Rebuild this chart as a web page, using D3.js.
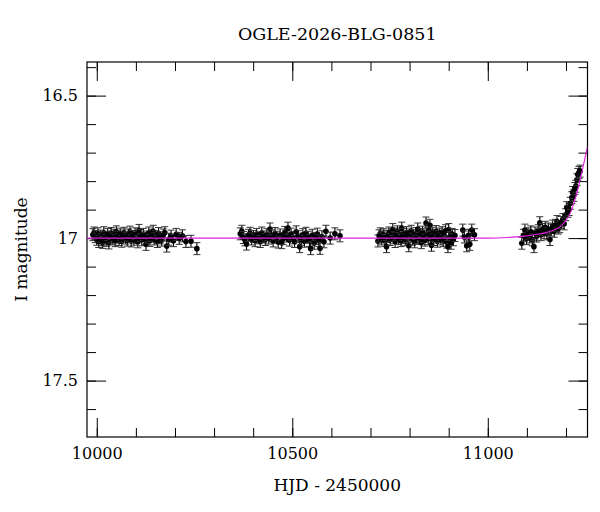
<!DOCTYPE html>
<html>
<head>
<meta charset="utf-8">
<script src="https://cdn.jsdelivr.net/npm/d3@7"></script>
<style>
  body { margin: 0; background: #fff; }
  text { font-family: "DejaVu Serif", serif; fill: #000; }
</style>
</head>
<body>
<div id="chart"></div>
<script>
// season 1 photometry (HJD - 2450000, I mag)
var s1t = [9990, 9993, 9996, 10000, 10003, 10005, 10009, 10012, 10015, 10018, 10021, 10024, 10028, 10031, 10034, 10037, 10041, 10044, 10047, 10050, 10054, 10057, 10060, 10064, 10067, 10070, 10074, 10078, 10081, 10085, 10088, 10091, 10095, 10098, 10102, 10105, 10108, 10112, 10115, 10119, 10122, 10126, 10129, 10133, 10136, 10140, 10144, 10147, 10151, 10155, 10158, 10162, 10166, 10170, 10174, 10179, 10184, 10190, 10196, 10203, 10211, 10219, 10228, 10241, 10256];
var s1m = [16.988, 16.982, 16.995, 17.004, 16.985, 17.012, 16.993, 17.006, 17.015, 16.981, 16.999, 17.008, 16.987, 17.017, 16.996, 16.984, 17.003, 16.99, 17.009, 16.978, 16.997, 17.005, 16.986, 17.011, 16.993, 16.983, 17.0, 17.007, 16.989, 16.979, 17.01, 16.994, 17.004, 16.985, 16.998, 17.013, 16.973, 16.991, 17.006, 16.987, 17.002, 17.022, 16.996, 16.982, 17.008, 16.99, 16.976, 17.003, 16.995, 17.012, 16.984, 16.999, 17.007, 16.989, 16.981, 17.028, 17.004, 16.993, 17.009, 16.987, 17.001, 16.992, 17.012, 17.011, 17.037];

// season 2
var s2t = [10367, 10371, 10375, 10379, 10383, 10388, 10392, 10396, 10401, 10405, 10409, 10414, 10418, 10422, 10427, 10431, 10435, 10440, 10443, 10447, 10451, 10456, 10460, 10464, 10469, 10473, 10477, 10481, 10485, 10489, 10493, 10497, 10502, 10506, 10510, 10515, 10519, 10523, 10527, 10531, 10535, 10540, 10544, 10547, 10551, 10556, 10560, 10564, 10568, 10571, 10576, 10581, 10586, 10597, 10609, 10622];
var s2m = [16.985, 16.976, 16.998, 17.006, 17.021, 16.99, 16.983, 17.003, 16.994, 17.009, 16.987, 16.999, 17.012, 16.982, 16.996, 17.005, 16.988, 17.0, 16.968, 16.992, 17.01, 16.984, 16.997, 17.014, 16.989, 17.016, 17.002, 16.98, 16.993, 16.965, 17.007, 16.986, 16.999, 17.012, 16.978, 16.995, 17.03, 17.004, 16.988, 17.011, 16.983, 16.997, 17.008, 17.037, 16.99, 17.018, 17.001, 16.986, 17.009, 17.036, 16.995, 17.013, 16.976, 17.0, 16.985, 16.992];

// season 3
var s3t = [10719, 10722, 10725, 10728, 10731, 10734, 10737, 10741, 10744, 10747, 10750, 10753, 10757, 10760, 10763, 10766, 10769, 10772, 10775, 10778, 10780, 10783, 10786, 10789, 10792, 10795, 10798, 10801, 10804, 10807, 10810, 10813, 10816, 10819, 10821, 10824, 10827, 10830, 10833, 10836, 10839, 10842, 10845, 10848, 10850, 10852, 10854, 10856, 10859, 10862, 10865, 10868, 10871, 10874, 10877, 10880, 10883, 10886, 10889, 10892, 10895, 10898, 10900, 10903, 10906, 10909, 10912, 10916, 10936, 10940, 10946, 10951, 10954, 10959, 10966];
var s3m = [17.01, 16.992, 16.985, 17.003, 16.996, 16.988, 17.008, 17.03, 16.994, 16.982, 17.005, 16.99, 16.97, 16.999, 17.012, 16.986, 16.978, 17.002, 16.993, 17.009, 16.965, 16.987, 16.998, 17.006, 16.981, 16.995, 17.027, 16.989, 16.976, 17.004, 16.992, 17.013, 16.984, 16.997, 16.968, 17.001, 16.988, 17.016, 16.979, 16.994, 17.007, 16.947, 16.985, 17.002, 16.973, 16.955, 16.996, 17.025, 16.983, 17.005, 16.99, 16.977, 17.011, 16.995, 16.986, 17.003, 16.981, 17.009, 16.993, 16.974, 17.014, 17.03, 16.97, 16.998, 17.018, 16.987, 17.006, 16.991, 16.972, 16.996, 17.027, 16.99, 17.022, 16.972, 16.988];

// season 4 (rising part)
var s4t = [11087, 11091, 11095, 11099, 11103, 11107, 11110, 11114, 11118, 11121, 11125, 11129, 11133, 11136, 11140, 11144, 11147, 11151, 11155, 11159, 11162, 11166, 11170, 11173, 11177, 11180, 11184, 11188, 11192, 11195, 11199, 11202, 11205, 11208, 11211, 11215, 11217, 11220, 11223, 11225, 11228, 11230, 11233, 11236];
var s4m = [17.018, 16.99, 16.972, 17.002, 16.985, 16.996, 16.978, 17.006, 17.03, 16.982, 16.993, 16.974, 16.946, 16.988, 16.97, 16.981, 16.962, 16.985, 16.968, 17.005, 16.972, 16.958, 16.976, 16.955, 16.942, 16.965, 16.96, 16.945, 16.935, 16.95, 16.918, 16.893, 16.906, 16.9, 16.878, 16.858, 16.84, 16.85, 16.826, 16.818, 16.795, 16.777, 16.77, 16.765];

// photometric errors per season (mag)
var seasonErr = [0.021, 0.021, 0.021, 0.021];

// model light curve
var modelT = [9975, 10500, 11000, 11050, 11089, 11120, 11151, 11175, 11189, 11200, 11210, 11220, 11230, 11238, 11246, 11255];
var modelM = [17.0, 17.0, 17.0, 16.998, 16.994, 16.988, 16.98, 16.968, 16.955, 16.938, 16.915, 16.878, 16.83, 16.785, 16.735, 16.68];

// tick values
var xMajor = [10000, 10500, 11000];
var xMinor = [10000, 10100, 10200, 10300, 10400, 10500, 10600, 10700, 10800, 10900, 11000, 11100, 11200];
var yMajor = [16.5, 17, 17.5];
var yMinor = [16.4, 16.5, 16.6, 16.7, 16.8, 16.9, 17, 17.1, 17.2, 17.3, 17.4, 17.5, 17.6];

var svgWidth = 600;
var svgHeight = 512;
var margin = { top: 62, right: 12.5, bottom: 75, left: 87 };
var width = svgWidth - margin.left - margin.right;
var height = svgHeight - margin.top - margin.bottom;

var svg = d3.select("#chart")
  .append("svg")
  .attr("width", svgWidth)
  .attr("height", svgHeight);

var chartGroup = svg.append("g")
  .attr("transform", `translate(${margin.left}, ${margin.top})`);

var xScale = d3.scaleLinear().domain([9975, 11255]).range([0, width]);
var yScale = d3.scaleLinear().domain([16.382, 17.698]).range([0, height]);

// build the point table
var points = [];
[[s1t, s1m], [s2t, s2m], [s3t, s3m], [s4t, s4m]].forEach(function (s, i) {
  s[0].forEach(function (t, j) {
    points.push({ t: t, m: s[1][j], e: seasonErr[i] });
  });
});

// axes: major + minor ticks pointing inwards
function drawTicks(axisFn, scale, values, size, labels, transform) {
  var ax = axisFn(scale).tickValues(values).tickSize(size).tickSizeOuter(0);
  if (labels) {
    ax.tickFormat(d3.format("")).tickPadding(labels);
  } else {
    ax.tickFormat("");
  }
  var g = chartGroup.append("g").attr("transform", transform).call(ax);
  g.select(".domain").remove();
  g.selectAll("line").attr("stroke", "#000").attr("stroke-width", 1);
  g.selectAll("text").style("font-size", "16px").style("font-family", "DejaVu Serif, serif").attr("fill", "#000");
  return g;
}

drawTicks(d3.axisBottom, xScale, xMinor, -9, 0, `translate(0, ${height})`);
drawTicks(d3.axisBottom, xScale, xMajor, -19, 11, `translate(0, ${height})`);
drawTicks(d3.axisTop, xScale, xMinor, -9, 0, "translate(0, 0)");
drawTicks(d3.axisTop, xScale, xMajor, -19, 0, "translate(0, 0)");
drawTicks(d3.axisLeft, yScale, yMinor, -9, 0, "translate(0, 0)");
drawTicks(d3.axisLeft, yScale, yMajor, -19, 9, "translate(0, 0)");
drawTicks(d3.axisRight, yScale, yMinor, -9, 0, `translate(${width}, 0)`);
drawTicks(d3.axisRight, yScale, yMajor, -19, 0, `translate(${width}, 0)`);

// frame
chartGroup.append("rect")
  .attr("x", 0)
  .attr("y", 0)
  .attr("width", width)
  .attr("height", height)
  .attr("fill", "none")
  .attr("stroke", "#000")
  .attr("stroke-width", 1.2);

// clip for data and model
chartGroup.append("clipPath")
  .attr("id", "plotClip")
  .append("rect")
  .attr("width", width)
  .attr("height", height);

var dataGroup = chartGroup.append("g").attr("clip-path", "url(#plotClip)");

// error bars
var bars = dataGroup.selectAll("g.pt")
  .data(points)
  .enter()
  .append("g")
  .attr("class", "pt");

bars.append("line")
  .attr("x1", d => xScale(d.t))
  .attr("x2", d => xScale(d.t))
  .attr("y1", d => yScale(d.m - d.e))
  .attr("y2", d => yScale(d.m + d.e))
  .attr("stroke", "#000")
  .attr("stroke-width", 1.1);

bars.append("line")
  .attr("x1", d => xScale(d.t) - 3.5)
  .attr("x2", d => xScale(d.t) + 3.5)
  .attr("y1", d => yScale(d.m - d.e))
  .attr("y2", d => yScale(d.m - d.e))
  .attr("stroke", "#333")
  .attr("stroke-width", 1);

bars.append("line")
  .attr("x1", d => xScale(d.t) - 3.5)
  .attr("x2", d => xScale(d.t) + 3.5)
  .attr("y1", d => yScale(d.m + d.e))
  .attr("y2", d => yScale(d.m + d.e))
  .attr("stroke", "#333")
  .attr("stroke-width", 1);

bars.append("circle")
  .attr("cx", d => xScale(d.t))
  .attr("cy", d => yScale(d.m))
  .attr("r", 2.8)
  .attr("fill", "#000");

// model curve on top
var model = modelT.map((t, i) => [t, modelM[i]]);
var line = d3.line()
  .x(d => xScale(d[0]))
  .y(d => yScale(d[1]))
  .curve(d3.curveMonotoneX);

dataGroup.append("path")
  .datum(model)
  .attr("d", line)
  .attr("fill", "none")
  .attr("stroke", "#e020e0")
  .attr("stroke-width", 1.1);

// titles
svg.append("text")
  .attr("x", margin.left + width / 2)
  .attr("y", 40)
  .attr("text-anchor", "middle")
  .style("font-size", "17.5px")
  .text("OGLE-2026-BLG-0851");

svg.append("text")
  .attr("x", margin.left + width / 2)
  .attr("y", 491)
  .attr("text-anchor", "middle")
  .style("font-size", "17px")
  .text("HJD - 2450000");

svg.append("text")
  .attr("transform", `translate(27, ${margin.top + height / 2}) rotate(-90)`)
  .attr("text-anchor", "middle")
  .style("font-size", "17px")
  .text("I magnitude");
</script>
</body>
</html>
